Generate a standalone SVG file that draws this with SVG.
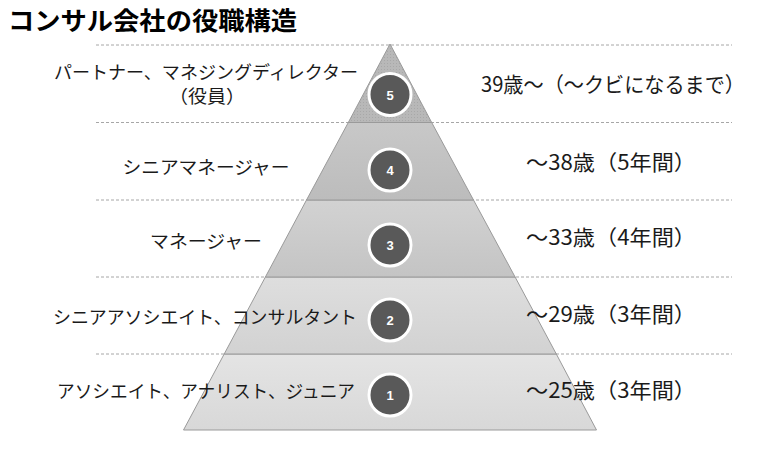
<svg xmlns="http://www.w3.org/2000/svg" width="766" height="460" viewBox="0 0 766 460">
<style>
.title{font-family:"Noto Sans CJK JP","Noto Sans",sans-serif;font-size:25px;font-weight:bold;fill:#000}
.lbl{font-family:"Noto Sans CJK JP","Noto Sans",sans-serif;font-size:18px;fill:#1a1a1a;text-anchor:middle}
.age{font-family:"Noto Sans CJK JP","Noto Sans",sans-serif;font-size:21px;fill:#1a1a1a;text-anchor:middle}
.num{font-family:"Liberation Sans","Noto Sans",sans-serif;font-size:13px;font-weight:bold;fill:#fff;text-anchor:middle}
.dash{stroke:#a6a6a6;stroke-width:1;stroke-dasharray:3 2;fill:none}
.layer{stroke:#9a9a9a;stroke-width:1}
.badge{fill:#595959;stroke:#fff;stroke-width:3}
</style>
<defs>
<pattern id="dots" width="3" height="3" patternUnits="userSpaceOnUse">
<rect width="3" height="3" fill="#b8b8b8"/>
<rect width="1" height="1" fill="#a8a8a8"/>
</pattern>
<linearGradient id="g4" x1="0" y1="0" x2="0" y2="1"><stop offset="0" stop-color="#c8c8c8"/><stop offset="1" stop-color="#bcbcbc"/></linearGradient>
<linearGradient id="g3" x1="0" y1="0" x2="0" y2="1"><stop offset="0" stop-color="#d2d2d2"/><stop offset="1" stop-color="#c4c4c4"/></linearGradient>
<linearGradient id="g2" x1="0" y1="0" x2="0" y2="1"><stop offset="0" stop-color="#dedede"/><stop offset="1" stop-color="#d2d2d2"/></linearGradient>
<linearGradient id="g1" x1="0" y1="0" x2="0" y2="1"><stop offset="0" stop-color="#e4e4e4"/><stop offset="1" stop-color="#d8d8d8"/></linearGradient>
</defs>
<rect width="766" height="460" fill="#fff"/>
<text class="title" x="8" y="30" textLength="289" lengthAdjust="spacingAndGlyphs">コンサル会社の役職構造</text>
<g id="connectors">
<line class="dash" x1="96" y1="45" x2="732" y2="45"/>
<line class="dash" x1="96" y1="122.5" x2="732" y2="122.5"/>
<line class="dash" x1="96" y1="200" x2="732" y2="200"/>
<line class="dash" x1="96" y1="277" x2="732" y2="277"/>
<line class="dash" x1="96" y1="354" x2="732" y2="354"/>
</g>
<g id="level1">
<polygon class="layer" points="224.2,354 556.3,354 596.5,430 183.5,430" fill="url(#g1)"/>
<circle class="badge" cx="390" cy="395" r="21"/>
<text class="num" x="390" y="400">1</text>
<text class="lbl" x="206" y="398" textLength="298" lengthAdjust="spacingAndGlyphs">アソシエイト、アナリスト、ジュニア</text>
<text class="age" x="611" y="398" textLength="170" lengthAdjust="spacingAndGlyphs">～25歳（3年間）</text>
</g>
<g id="level2">
<polygon class="layer" points="265.4,277 515.1,277 556.3,354 224.2,354" fill="url(#g2)"/>
<circle class="badge" cx="390" cy="320" r="21"/>
<text class="num" x="390" y="325">2</text>
<text class="lbl" x="205" y="324" textLength="304" lengthAdjust="spacingAndGlyphs">シニアアソシエイト、コンサルタント</text>
<text class="age" x="611" y="322" textLength="170" lengthAdjust="spacingAndGlyphs">～29歳（3年間）</text>
</g>
<g id="level3">
<polygon class="layer" points="306.5,200 473.5,200 515.1,277 265.4,277" fill="url(#g3)"/>
<circle class="badge" cx="390" cy="245" r="21"/>
<text class="num" x="390" y="250">3</text>
<text class="lbl" x="206" y="248" textLength="112" lengthAdjust="spacingAndGlyphs">マネージャー</text>
<text class="age" x="611" y="245" textLength="170" lengthAdjust="spacingAndGlyphs">～33歳（4年間）</text>
</g>
<g id="level4">
<polygon class="layer" points="348.3,122.5 431.7,122.5 473.5,200 306.5,200" fill="url(#g4)"/>
<circle class="badge" cx="390" cy="170" r="21"/>
<text class="num" x="390" y="175">4</text>
<text class="lbl" x="206" y="174" textLength="167" lengthAdjust="spacingAndGlyphs">シニアマネージャー</text>
<text class="age" x="611" y="170" textLength="170" lengthAdjust="spacingAndGlyphs">～38歳（5年間）</text>
</g>
<g id="level5">
<polygon class="layer" points="390,44 431.7,122.5 348.3,122.5" fill="url(#dots)"/>
<circle class="badge" cx="390" cy="94.5" r="21"/>
<text class="num" x="390" y="99.5">5</text>
<text class="lbl" x="206" y="79" textLength="304" lengthAdjust="spacingAndGlyphs">パートナー、マネジングディレクター</text>
<text class="lbl" x="207" y="103" textLength="76" lengthAdjust="spacingAndGlyphs">（役員）</text>
<text class="age" x="613" y="92" textLength="264" lengthAdjust="spacingAndGlyphs">39歳～（～クビになるまで）</text>
</g>
</svg>
